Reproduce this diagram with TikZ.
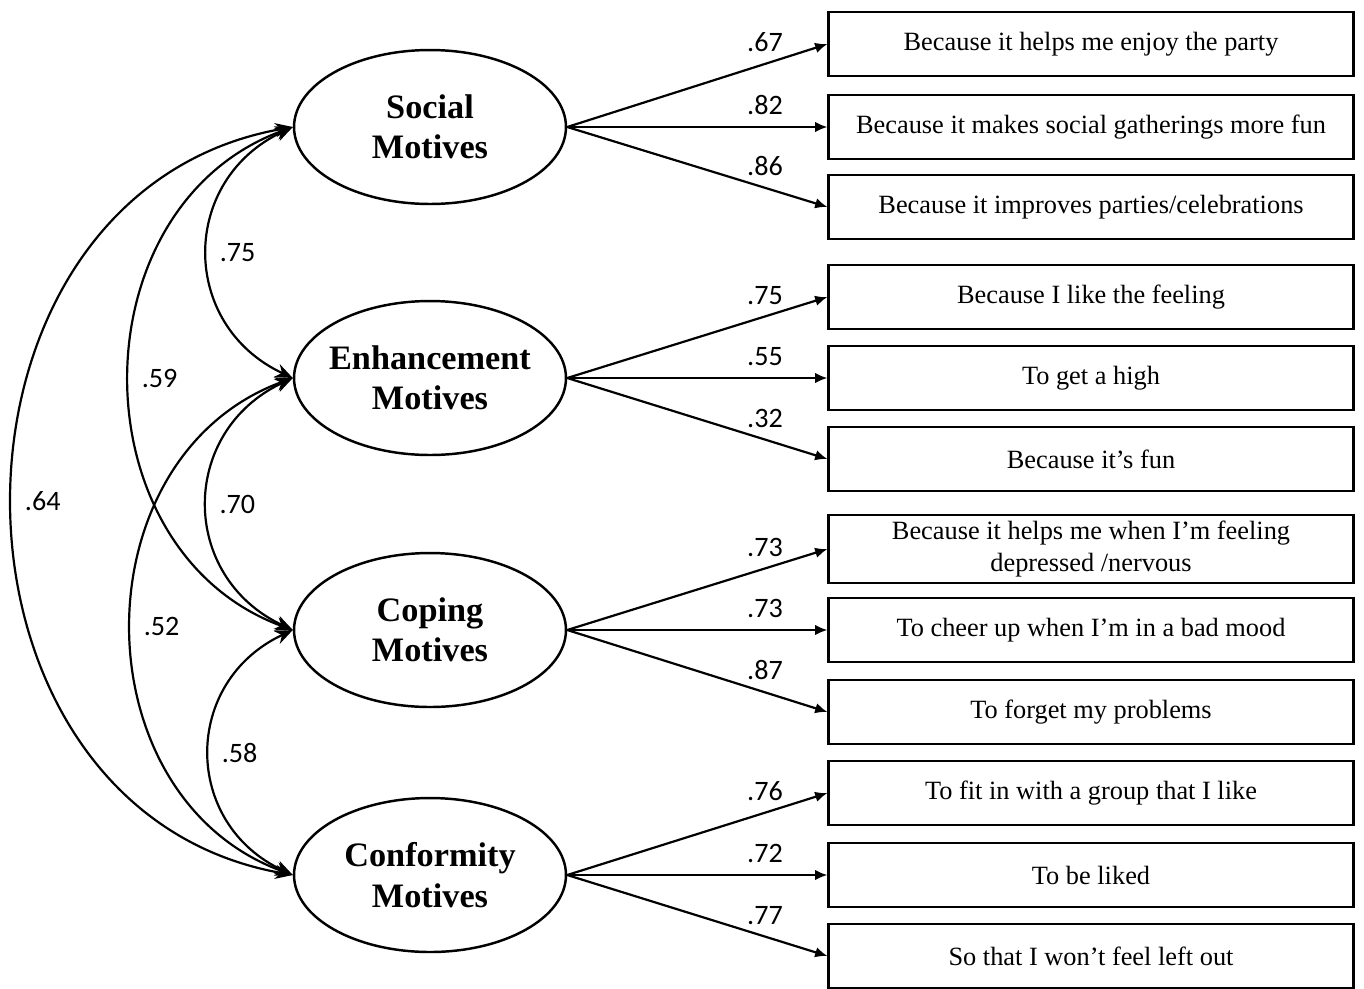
\documentclass[tikz,border=0pt]{standalone}
\usepackage{fontspec}
\setmainfont{Liberation Serif}
\newfontfamily\numfont{Carlito}
\usetikzlibrary{
  positioning,
  arrows.meta,
  shapes
}
\tikzset{>={Latex[length=7pt,width=6pt]}}
\tikzset{
  factor/.style={draw,ellipse,line width=1.4pt,minimum width=5.44cm,minimum height=3.08cm,
    inner xsep=-1cm,inner ysep=0pt,align=center,font=\fontsize{19.5}{23}\selectfont\bfseries},
  item/.style={draw,rectangle,line width=1.25pt,minimum width=10.5cm,minimum height=1.28cm,
    align=center,font=\fontsize{15}{18}\selectfont},
  load/.style={->,line width=1.25pt},
  cov/.style={{Stealth[length=10pt,width=8pt]}-{Stealth[length=10pt,width=8pt]},line width=1.25pt},
  num/.style={font=\fontsize{16}{18}\selectfont\numfont}
}

\begin{document}
\begin{tikzpicture}[x=0.02cm,y=0.02cm]
	\useasboundingbox (0,0) rectangle (1364,-988);

	% latent factors
	\node[factor] (soc) at (430,-127) {Social\\Motives};
	\node[factor] (enh) at (430,-378) {Enhancement\\Motives};
	\node[factor] (cop) at (430,-630) {Coping\\Motives};
	\node[factor] (con) at (430,-875) {Conformity\\Motives};

	% items
	\node[item] (soc1) at (1091,-44) {Because it helps me enjoy the party};
	\node[item] (soc2) at (1091,-127) {Because it makes social gatherings more fun};
	\node[item] (soc3) at (1091,-207) {Because it improves parties/celebrations};
	\node[item] (enh1) at (1091,-297) {Because I like the feeling};
	\node[item] (enh2) at (1091,-378) {To get a high};
	\node[item] (enh3) at (1091,-459) {Because it’s fun};
	\node[item] (cop1) at (1091,-549) {Because it helps me when I’m feeling\\depressed /nervous};
	\node[item] (cop2) at (1091,-630) {To cheer up when I’m in a bad mood};
	\node[item] (cop3) at (1091,-712) {To forget my problems};
	\node[item] (con1) at (1091,-793) {To fit in with a group that I like};
	\node[item] (con2) at (1091,-875) {To be liked};
	\node[item] (con3) at (1091,-956) {So that I won’t feel left out};

	% loadings
	\draw[load] (soc.east) -- node[pos=.76,above=3pt,num] {.67} (soc1.west);
	\draw[load] (soc.east) -- node[pos=.76,above=3pt,num] {.82} (soc2.west);
	\draw[load] (soc.east) -- node[pos=.76,above=3pt,num] {.86} (soc3.west);
	\draw[load] (enh.east) -- node[pos=.76,above=3pt,num] {.75} (enh1.west);
	\draw[load] (enh.east) -- node[pos=.76,above=3pt,num] {.55} (enh2.west);
	\draw[load] (enh.east) -- node[pos=.76,above=3pt,num] {.32} (enh3.west);
	\draw[load] (cop.east) -- node[pos=.76,above=3pt,num] {.73} (cop1.west);
	\draw[load] (cop.east) -- node[pos=.76,above=3pt,num] {.73} (cop2.west);
	\draw[load] (cop.east) -- node[pos=.76,above=3pt,num] {.87} (cop3.west);
	\draw[load] (con.east) -- node[pos=.76,above=3pt,num] {.76} (con1.west);
	\draw[load] (con.east) -- node[pos=.76,above=3pt,num] {.72} (con2.west);
	\draw[load] (con.east) -- node[pos=.76,above=3pt,num] {.77} (con3.west);

	% correlations
	\draw[cov] (soc.west) to[out=205,in=155,looseness=1.28] node[midway,right=3pt,num] {.75} (enh.west);
	\draw[cov] (enh.west) to[out=205,in=155,looseness=1.28] node[midway,right=3pt,num] {.70} (cop.west);
	\draw[cov] (cop.west) to[out=205,in=155,looseness=1.28] node[midway,right=3pt,num] {.58} (con.west);
	\draw[cov] (soc.west) to[out=200,in=160,looseness=1.18] node[midway,right=3pt,num] {.59} (cop.west);
	\draw[cov] (enh.west) to[out=200,in=160,looseness=1.18] node[midway,right=3pt,num] {.52} (con.west);
	\draw[cov] (soc.west) to[out=190,in=170,looseness=1.3] node[midway,right=3pt,num] {.64} (con.west);
\end{tikzpicture}
\end{document}
